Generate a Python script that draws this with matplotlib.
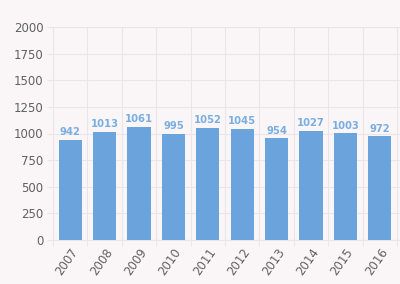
import matplotlib

matplotlib.use("Agg")
import matplotlib.pyplot as plt  # noqa: E402
import numpy as np  # noqa: E402

years = ["2007", "2008", "2009", "2010", "2011", "2012", "2013", "2014", "2015", "2016"]
counts = [942, 1013, 1061, 995, 1052, 1045, 954, 1027, 1003, 972]
y_ticks = [0, 250, 500, 750, 1000, 1250, 1500, 1750, 2000]

bg = "#faf6f7"
bar_color = "#6ba4dc"
label_color = "#7aaee0"
grid_color = "#ebe5e7"
text_color = "#606060"

fig = plt.figure(figsize=(4.0, 2.84), dpi=100, facecolor=bg)
ax = fig.add_axes([53 / 400, 1 - 240 / 284, 347 / 400, 213 / 284])
ax.set_facecolor(bg)

x = np.arange(len(years))
bars = ax.bar(x, counts, width=0.67, color=bar_color, zorder=3)

for bar, value in zip(bars, counts):
    ax.text(
        bar.get_x() + bar.get_width() / 2,
        value + 25,
        str(value),
        ha="center",
        va="bottom",
        fontsize=7.2,
        fontweight="bold",
        color=label_color,
        zorder=4,
    )

ax.set_ylim(0, 2000)
ax.set_xlim(-0.5, -0.5 + 347 / 34.4)
ax.set_yticks(y_ticks)
ax.set_yticklabels([str(v) for v in y_ticks], fontsize=8.5, color=text_color)

ax.set_xticks(x)
ax.set_xticklabels(years, rotation=55, ha="right", rotation_mode="anchor",
                   fontsize=8.5, color=text_color)
ax.tick_params(axis="x", length=0, pad=4)
ax.tick_params(axis="y", length=4, color=grid_color, pad=3)

# grid lines sit on category boundaries
ax.set_xticks(np.arange(-0.5, len(years) + 0.5, 1), minor=True)
ax.tick_params(axis="x", which="minor", length=4, color=grid_color)
ax.grid(axis="x", which="minor", color=grid_color, linewidth=0.8, zorder=0)
ax.grid(axis="y", which="major", color=grid_color, linewidth=0.8, zorder=0)

for side in ("top", "right"):
    ax.spines[side].set_visible(False)
ax.spines["left"].set_color(grid_color)
ax.spines["bottom"].set_color(grid_color)

fig.savefig("out.png", dpi=100, facecolor=bg)
